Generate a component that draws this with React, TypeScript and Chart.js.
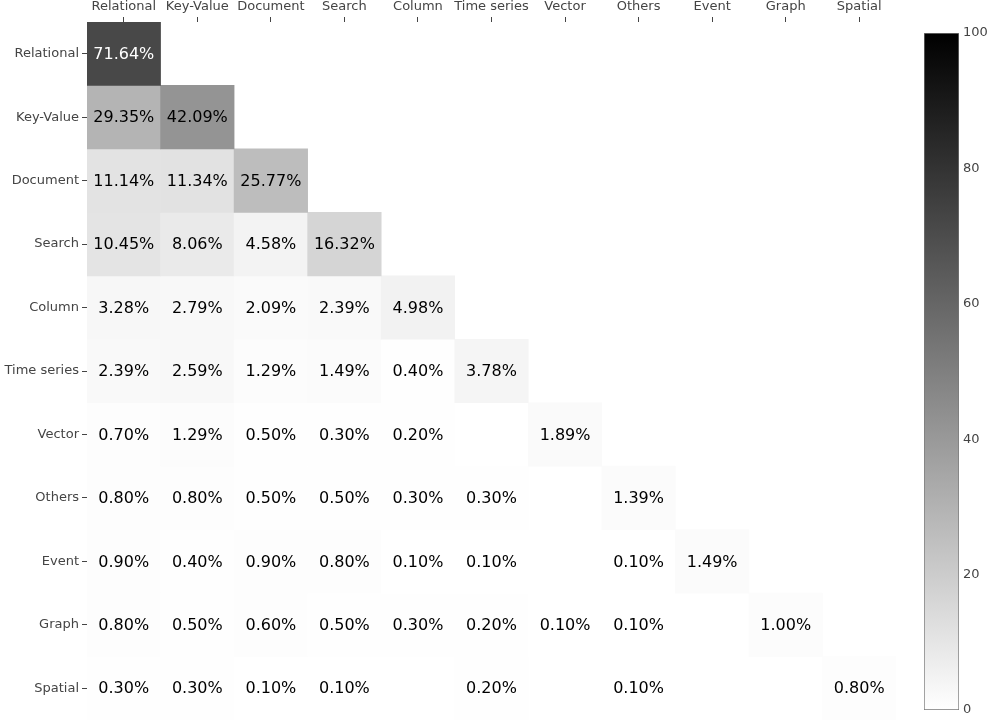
import React, { useEffect, useRef } from "react";
import { Chart, registerables } from "chart.js";

Chart.register(...registerables);

const categories = [
  "Relational",
  "Key-Value",
  "Document",
  "Search",
  "Column",
  "Time series",
  "Vector",
  "Others",
  "Event",
  "Graph",
  "Spatial",
];

// Lower-triangular co-usage percentages (row i, column j <= i); null = no cell
const relational = [71.64];
const keyValue = [29.35, 42.09];
const document_ = [11.14, 11.34, 25.77];
const search = [10.45, 8.06, 4.58, 16.32];
const column = [3.28, 2.79, 2.09, 2.39, 4.98];
const timeSeries = [2.39, 2.59, 1.29, 1.49, 0.4, 3.78];
const vector = [0.7, 1.29, 0.5, 0.3, 0.2, null, 1.89];
const others = [0.8, 0.8, 0.5, 0.5, 0.3, 0.3, null, 1.39];
const event = [0.9, 0.4, 0.9, 0.8, 0.1, 0.1, null, 0.1, 1.49];
const graph = [0.8, 0.5, 0.6, 0.5, 0.3, 0.2, 0.1, 0.1, null, 1.0];
const spatial = [0.3, 0.3, 0.1, 0.1, null, 0.2, null, 0.1, null, null, 0.8];

const rows: (number | null)[][] = [
  relational,
  keyValue,
  document_,
  search,
  column,
  timeSeries,
  vector,
  others,
  event,
  graph,
  spatial,
];

const colorMin = 0;
const colorMax = 100;
const colorbarStep = 20;

const FONT = "'DejaVu Sans', Verdana, sans-serif";
const LABEL_COLOR = "#444";

function grayLevel(v: number) {
  const t = Math.max(0, Math.min(1, (v - colorMin) / (colorMax - colorMin)));
  return Math.round(255 * (1 - t));
}
function grayColor(v: number) {
  const g = grayLevel(v);
  return `rgb(${g},${g},${g})`;
}

const cellLabelPlugin = {
  id: "cellLabels",
  afterDatasetsDraw(chart: any) {
    const ctx = chart.ctx;
    ctx.save();
    ctx.font = `16px ${FONT}`;
    ctx.textAlign = "center";
    ctx.textBaseline = "middle";
    chart.data.datasets.forEach((ds: any, i: number) => {
      const meta = chart.getDatasetMeta(i);
      meta.data.forEach((el: any, j: number) => {
        const v = rows[i][j];
        if (v === null || v === undefined) return;
        const p = el.getProps(["x", "y", "base"], true);
        ctx.fillStyle = grayLevel(v) < 128 ? "#ffffff" : "#000000";
        ctx.fillText(v.toFixed(2) + "%", p.x, (p.y + p.base) / 2 + 1);
      });
    });
    ctx.restore();
  },
};

export default function App() {
  const mainRef = useRef<HTMLCanvasElement>(null);
  const cbRef = useRef<HTMLCanvasElement>(null);

  useEffect(() => {
    document.body.style.margin = "0";
    const datasets = rows.map((row, i) => ({
      label: categories[i],
      data: categories.map((_, j) => {
        const v = row[j];
        return v === null || v === undefined ? null : [i - 0.5, i + 0.5];
      }),
      backgroundColor: categories.map((_, j) => {
        const v = row[j];
        return v === null || v === undefined ? "rgba(0,0,0,0)" : grayColor(v);
      }),
      borderWidth: 0,
      barPercentage: 1,
      categoryPercentage: 1,
      grouped: false,
    }));

    const main = new Chart(mainRef.current as HTMLCanvasElement, {
      type: "bar",
      data: { labels: categories, datasets: datasets as any },
      options: {
        animation: false,
        responsive: false,
        maintainAspectRatio: false,
        layout: { padding: { left: 0, right: 101, top: 0, bottom: 2 } },
        plugins: { legend: { display: false }, tooltip: { enabled: false } },
        scales: {
          x: {
            type: "category",
            position: "top",
            offset: true,
            grid: {
              display: true,
              drawOnChartArea: false,
              drawTicks: true,
              tickLength: 5,
              offset: false,
              color: LABEL_COLOR,
            },
            border: { display: false },
            ticks: {
              color: LABEL_COLOR,
              font: { family: FONT, size: 13 },
              padding: 3,
              maxRotation: 0,
              autoSkip: false,
            },
            afterFit: (s: any) => {
              s.height = 22;
              s.paddingLeft = 0;
              s.paddingRight = 0;
            },
          },
          y: {
            type: "linear",
            min: -0.5,
            max: categories.length - 0.5,
            reverse: true,
            stacked: false,
            grid: {
              display: true,
              drawOnChartArea: false,
              drawTicks: true,
              tickLength: 5,
              color: LABEL_COLOR,
            },
            border: { display: false },
            afterBuildTicks: (s: any) => {
              s.ticks = categories.map((_, i) => ({ value: i }));
            },
            ticks: {
              color: LABEL_COLOR,
              font: { family: FONT, size: 13 },
              padding: 3,
              autoSkip: false,
              callback: (v: any) => categories[Math.round(Number(v))] ?? "",
            },
            afterFit: (s: any) => {
              s.width = 87;
              s.paddingTop = 0;
              s.paddingBottom = 0;
            },
          },
        },
      },
      plugins: [cellLabelPlugin],
    });

    const cb = new Chart(cbRef.current as HTMLCanvasElement, {
      type: "bar",
      data: {
        labels: ["scale"],
        datasets: [
          {
            data: [[colorMin, colorMax]] as any,
            backgroundColor: (c: any) => {
              const ca = c.chart.chartArea;
              if (!ca) return "#888";
              const g = c.chart.ctx.createLinearGradient(0, ca.bottom, 0, ca.top);
              g.addColorStop(0, "#ffffff");
              g.addColorStop(1, "#000000");
              return g;
            },
            borderColor: "#777",
            borderWidth: 1,
            borderSkipped: false,
            barPercentage: 1,
            categoryPercentage: 1,
          },
        ],
      },
      options: {
        animation: false,
        responsive: false,
        maintainAspectRatio: false,
        layout: { padding: { left: 4, right: 0, top: 33, bottom: 12 } },
        plugins: { legend: { display: false }, tooltip: { enabled: false } },
        scales: {
          x: { display: false },
          y: {
            position: "right",
            min: colorMin,
            max: colorMax,
            grid: { display: false, drawTicks: false, tickLength: 0 },
            border: { display: false },
            ticks: {
              stepSize: colorbarStep,
              color: LABEL_COLOR,
              font: { family: FONT, size: 13 },
              padding: 4,
            },
            afterFit: (s: any) => {
              s.width = 38;
              s.paddingTop = 0;
              s.paddingBottom = 0;
            },
          },
        },
      },
    });

    return () => {
      main.destroy();
      cb.destroy();
    };
  }, []);

  return (
    <div style={{ position: "absolute", left: 0, top: 0, width: 997, height: 722 }}>
      <canvas
        ref={mainRef}
        width={997}
        height={722}
        style={{ position: "absolute", left: 0, top: 0, width: 997, height: 722 }}
      />
      <canvas
        ref={cbRef}
        width={77}
        height={722}
        style={{ position: "absolute", left: 920, top: 0, width: 77, height: 722 }}
      />
    </div>
  );
}
